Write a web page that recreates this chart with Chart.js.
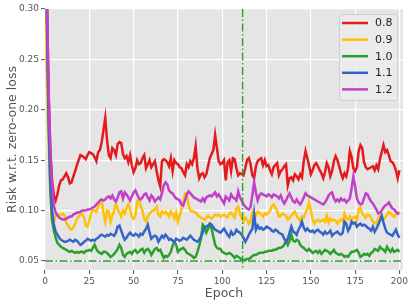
<!DOCTYPE html>
<html>
<head>
<meta charset="utf-8">
<script src="https://cdn.jsdelivr.net/npm/chart.js@4.4.1/dist/chart.umd.min.js"></script>
<style>
  html, body { margin: 0; padding: 0; background: #fff; }
  #wrap { width: 415px; height: 306px; }
</style>
</head>
<body>
<div id="wrap"><canvas id="riskChart" width="415" height="306"></canvas></div>
<script>
// series values, one per epoch (0..200)
const SERIES_LABELS = ['0.8', '0.9', '1.0', '1.1', '1.2'];
const SERIES_COLORS = ['#e41a1c', '#ffc107', '#2ca02c', '#3563c6', '#c23fc9'];

const RISK_08 = [
  0.45, 0.32, 0.22, 0.16, 0.13, 0.115, 0.11, 0.116, 0.125, 0.130,
  0.131, 0.134, 0.137, 0.133, 0.127, 0.128, 0.134, 0.139, 0.145, 0.150,
  0.155, 0.154, 0.153, 0.151, 0.155, 0.158, 0.157, 0.156, 0.153, 0.149,
  0.158, 0.160, 0.168, 0.180, 0.192, 0.170, 0.155, 0.152, 0.162, 0.160,
  0.155, 0.166, 0.168, 0.167, 0.156, 0.152, 0.154, 0.148, 0.155, 0.145,
  0.138, 0.142, 0.150, 0.146, 0.147, 0.152, 0.155, 0.142, 0.146, 0.150,
  0.143, 0.146, 0.149, 0.139, 0.130, 0.124, 0.149, 0.151, 0.150, 0.148,
  0.144, 0.152, 0.139, 0.150, 0.147, 0.146, 0.143, 0.142, 0.138, 0.135,
  0.146, 0.143, 0.149, 0.146, 0.152, 0.164, 0.142, 0.132, 0.136, 0.137,
  0.133, 0.136, 0.144, 0.152, 0.156, 0.160, 0.175, 0.162, 0.149, 0.146,
  0.147, 0.150, 0.130, 0.148, 0.150, 0.139, 0.152, 0.151, 0.142, 0.135,
  0.137, 0.136, 0.135, 0.142, 0.150, 0.152, 0.146, 0.135, 0.132, 0.144,
  0.149, 0.151, 0.152, 0.145, 0.150, 0.144, 0.145, 0.140, 0.136, 0.143,
  0.145, 0.147, 0.135, 0.139, 0.141, 0.144, 0.146, 0.125, 0.132, 0.133,
  0.130, 0.136, 0.134, 0.131, 0.136, 0.133, 0.149, 0.159, 0.152, 0.145,
  0.136, 0.140, 0.145, 0.147, 0.144, 0.140, 0.137, 0.132, 0.138, 0.147,
  0.143, 0.134, 0.139, 0.149, 0.154, 0.150, 0.144, 0.137, 0.132, 0.137,
  0.134, 0.142, 0.159, 0.153, 0.142, 0.139, 0.143, 0.159, 0.165, 0.162,
  0.148, 0.143, 0.141, 0.142, 0.143, 0.144, 0.140, 0.145, 0.141, 0.151,
  0.158, 0.165, 0.158, 0.160, 0.155, 0.149, 0.148, 0.145, 0.140, 0.132,
  0.140
];

const RISK_09 = [
  0.40, 0.24, 0.17, 0.12, 0.092, 0.088, 0.096, 0.097, 0.095, 0.096,
  0.097, 0.095, 0.088, 0.085, 0.082, 0.081, 0.083, 0.087, 0.091, 0.094,
  0.096, 0.097, 0.093, 0.085, 0.084, 0.090, 0.097, 0.101, 0.100, 0.099,
  0.104, 0.108, 0.109, 0.098, 0.089, 0.100, 0.099, 0.089, 0.095, 0.100,
  0.107, 0.101, 0.098, 0.094, 0.100, 0.097, 0.102, 0.106, 0.101, 0.094,
  0.092, 0.095, 0.109, 0.111, 0.104, 0.100, 0.092, 0.089, 0.094, 0.097,
  0.099, 0.100, 0.101, 0.104, 0.096, 0.094, 0.099, 0.097, 0.099, 0.097,
  0.094, 0.099, 0.096, 0.092, 0.098, 0.089, 0.095, 0.101, 0.107, 0.117,
  0.116, 0.105, 0.100, 0.099, 0.099, 0.098, 0.096, 0.094, 0.093, 0.092,
  0.091, 0.093, 0.095, 0.093, 0.092, 0.094, 0.096, 0.095, 0.096, 0.094,
  0.095, 0.096, 0.094, 0.093, 0.097, 0.098, 0.095, 0.093, 0.102, 0.104,
  0.097, 0.092, 0.089, 0.093, 0.091, 0.087, 0.090, 0.098, 0.092, 0.095,
  0.099, 0.098, 0.096, 0.094, 0.097, 0.096, 0.098, 0.100, 0.104, 0.106,
  0.103, 0.100, 0.094, 0.095, 0.097, 0.096, 0.095, 0.091, 0.093, 0.095,
  0.097, 0.099, 0.095, 0.092, 0.089, 0.094, 0.093, 0.098, 0.101, 0.108,
  0.100, 0.091, 0.087, 0.090, 0.091, 0.089, 0.090, 0.091, 0.089, 0.095,
  0.088, 0.092, 0.090, 0.091, 0.090, 0.087, 0.090, 0.091, 0.089, 0.097,
  0.092, 0.091, 0.094, 0.091, 0.093, 0.094, 0.091, 0.101, 0.103, 0.097,
  0.095, 0.093, 0.096, 0.095, 0.093, 0.089, 0.088, 0.087, 0.092, 0.095,
  0.094, 0.091, 0.093, 0.096, 0.099, 0.097, 0.095, 0.094, 0.096, 0.097,
  0.099
];

const RISK_10 = [
  0.45, 0.30, 0.19, 0.12, 0.09, 0.08, 0.073, 0.068, 0.066, 0.064,
  0.063, 0.062, 0.061, 0.060, 0.059, 0.060, 0.059, 0.058, 0.059, 0.058,
  0.059, 0.059, 0.058, 0.060, 0.060, 0.061, 0.060, 0.063, 0.066, 0.062,
  0.059, 0.058, 0.057, 0.059, 0.059, 0.058, 0.056, 0.054, 0.055, 0.057,
  0.059, 0.062, 0.066, 0.063, 0.056, 0.054, 0.057, 0.058, 0.059, 0.057,
  0.060, 0.061, 0.058, 0.059, 0.061, 0.062, 0.058, 0.061, 0.062, 0.060,
  0.056, 0.059, 0.062, 0.063, 0.060, 0.061, 0.057, 0.053, 0.055, 0.054,
  0.056, 0.059, 0.065, 0.069, 0.066, 0.059, 0.061, 0.062, 0.063, 0.061,
  0.058, 0.057, 0.056, 0.055, 0.053, 0.054, 0.059, 0.065, 0.072, 0.086,
  0.084, 0.078, 0.082, 0.086, 0.082, 0.074, 0.066, 0.063, 0.062, 0.062,
  0.059, 0.058, 0.057, 0.057, 0.058, 0.057, 0.055, 0.053, 0.055, 0.054,
  0.053, 0.051, 0.051, 0.051, 0.052, 0.052, 0.053, 0.055, 0.056, 0.056,
  0.057, 0.058, 0.058, 0.058, 0.059, 0.059, 0.060, 0.060, 0.060, 0.061,
  0.061, 0.062, 0.063, 0.063, 0.064, 0.066, 0.070, 0.066, 0.070, 0.076,
  0.070, 0.069, 0.071, 0.070, 0.066, 0.064, 0.063, 0.061, 0.060, 0.062,
  0.060, 0.058, 0.059, 0.060, 0.058, 0.060, 0.057, 0.059, 0.061, 0.060,
  0.059, 0.057, 0.059, 0.061, 0.058, 0.057, 0.056, 0.057, 0.056, 0.054,
  0.055, 0.054, 0.057, 0.059, 0.059, 0.060, 0.061, 0.058, 0.054, 0.055,
  0.057, 0.056, 0.057, 0.055, 0.058, 0.059, 0.062, 0.061, 0.060, 0.064,
  0.062, 0.061, 0.059, 0.064, 0.061, 0.059, 0.062, 0.059, 0.060, 0.061,
  0.059
];

const RISK_11 = [
  0.45, 0.30, 0.20, 0.13, 0.10, 0.086, 0.079, 0.076, 0.073, 0.071,
  0.070, 0.069, 0.069, 0.070, 0.071, 0.070, 0.069, 0.071, 0.070, 0.068,
  0.066, 0.067, 0.069, 0.070, 0.072, 0.071, 0.070, 0.071, 0.070, 0.072,
  0.073, 0.075, 0.076, 0.075, 0.074, 0.076, 0.075, 0.077, 0.076, 0.075,
  0.078, 0.084, 0.085, 0.080, 0.075, 0.071, 0.073, 0.076, 0.078, 0.076,
  0.075, 0.077, 0.076, 0.074, 0.077, 0.076, 0.079, 0.082, 0.086, 0.078,
  0.072, 0.074, 0.075, 0.074, 0.069, 0.072, 0.075, 0.073, 0.076, 0.074,
  0.071, 0.072, 0.070, 0.069, 0.072, 0.071, 0.070, 0.071, 0.073, 0.072,
  0.071, 0.073, 0.075, 0.073, 0.071, 0.070, 0.069, 0.071, 0.074, 0.078,
  0.083, 0.084, 0.085, 0.087, 0.086, 0.083, 0.081, 0.080, 0.079, 0.078,
  0.080, 0.082, 0.079, 0.076, 0.074, 0.079, 0.076, 0.077, 0.081, 0.079,
  0.078, 0.076, 0.073, 0.069, 0.072, 0.076, 0.079, 0.082, 0.097, 0.081,
  0.085, 0.082, 0.083, 0.081, 0.082, 0.084, 0.083, 0.082, 0.080, 0.079,
  0.081, 0.080, 0.078, 0.077, 0.076, 0.072, 0.069, 0.072, 0.078, 0.084,
  0.079, 0.078, 0.076, 0.081, 0.084, 0.089, 0.083, 0.080, 0.082, 0.080,
  0.079, 0.080, 0.078, 0.080, 0.081, 0.079, 0.078, 0.076, 0.079, 0.077,
  0.078, 0.080, 0.075, 0.077, 0.078, 0.079, 0.077, 0.076, 0.078, 0.089,
  0.087, 0.080, 0.083, 0.089, 0.087, 0.088, 0.084, 0.086, 0.087, 0.085,
  0.086, 0.085, 0.083, 0.082, 0.080, 0.084, 0.079, 0.082, 0.086, 0.090,
  0.095, 0.088, 0.082, 0.078, 0.077, 0.076, 0.075, 0.078, 0.081, 0.076,
  0.073
];

const RISK_12 = [
  0.45, 0.32, 0.22, 0.16, 0.125, 0.105, 0.098, 0.095, 0.093, 0.092,
  0.091, 0.091, 0.092, 0.093, 0.094, 0.094, 0.096, 0.097, 0.098, 0.098,
  0.099, 0.100, 0.100, 0.100, 0.101, 0.101, 0.102, 0.103, 0.104, 0.106,
  0.108, 0.110, 0.111, 0.110, 0.111, 0.113, 0.114, 0.112, 0.115, 0.111,
  0.109, 0.113, 0.118, 0.119, 0.112, 0.118, 0.116, 0.113, 0.110, 0.114,
  0.118, 0.120, 0.116, 0.112, 0.111, 0.113, 0.116, 0.117, 0.113, 0.110,
  0.115, 0.113, 0.109, 0.111, 0.113, 0.111, 0.117, 0.125, 0.128, 0.126,
  0.120, 0.118, 0.117, 0.114, 0.112, 0.111, 0.110, 0.106, 0.105, 0.110,
  0.116, 0.119, 0.117, 0.115, 0.113, 0.112, 0.111, 0.110, 0.109, 0.112,
  0.109, 0.113, 0.114, 0.115, 0.114, 0.116, 0.118, 0.114, 0.116, 0.113,
  0.110, 0.107, 0.114, 0.112, 0.110, 0.116, 0.113, 0.112, 0.110, 0.119,
  0.113, 0.110, 0.106, 0.104, 0.102, 0.101, 0.104, 0.115, 0.128, 0.118,
  0.110, 0.115, 0.117, 0.116, 0.115, 0.114, 0.116, 0.115, 0.113, 0.116,
  0.115, 0.114, 0.112, 0.115, 0.110, 0.107, 0.110, 0.114, 0.117, 0.113,
  0.109, 0.108, 0.111, 0.108, 0.106, 0.109, 0.113, 0.117, 0.115, 0.114,
  0.113, 0.112, 0.111, 0.110, 0.109, 0.108, 0.107, 0.106, 0.108, 0.111,
  0.115, 0.117, 0.118, 0.112, 0.109, 0.111, 0.109, 0.112, 0.110, 0.111,
  0.108, 0.110, 0.112, 0.122, 0.134, 0.124, 0.112, 0.108, 0.106, 0.107,
  0.112, 0.117, 0.116, 0.112, 0.109, 0.107, 0.104, 0.101, 0.097, 0.098,
  0.100, 0.103, 0.105, 0.106, 0.108, 0.105, 0.102, 0.101, 0.099, 0.097,
  0.097
];

const EPOCHS = RISK_08.map((_, i) => i);
const X_TICKS = [0, 25, 50, 75, 100, 125, 150, 175, 200];
const Y_TICKS = [0.05, 0.10, 0.15, 0.20, 0.25, 0.30];
const MARK_EPOCH = 111.5;   // vertical dash-dot line
const FLOOR_RISK = 0.05;    // horizontal dash-dot line

const ALL_SERIES = [RISK_08, RISK_09, RISK_10, RISK_11, RISK_12];

// gray panel behind the plot (ggplot look)
const panelBg = {
    id: 'panelBg',
    beforeDraw(chart) {
        const { ctx, chartArea: a } = chart;
        ctx.save();
        ctx.fillStyle = '#e5e5e5';
        ctx.fillRect(a.left, a.top, a.right - a.left, a.bottom - a.top);
        ctx.restore();
    }
};

// dash-dot reference lines + legend box in the corner
const extras = {
    id: 'extras',
    afterDatasetsDraw(chart) {
        const { ctx, chartArea: a, scales } = chart;
        const xv = scales.x.getPixelForValue(MARK_EPOCH);
        const yv = scales.y.getPixelForValue(FLOOR_RISK);
        ctx.save();
        ctx.beginPath();
        ctx.rect(a.left, a.top, a.right - a.left, a.bottom - a.top);
        ctx.clip();
        ctx.strokeStyle = '#2ca02c';
        ctx.lineWidth = 1.4;
        ctx.setLineDash([8, 2.5, 1.5, 2.5]);
        ctx.beginPath();
        ctx.moveTo(a.left, yv);
        ctx.lineTo(a.right, yv);
        ctx.stroke();
        ctx.beginPath();
        ctx.moveTo(xv, a.top);
        ctx.lineTo(xv, a.bottom);
        ctx.stroke();
        ctx.restore();
    },
    afterDraw(chart) {
        const { ctx, chartArea: a } = chart;
        const boxW = 58, boxH = 86;
        const bx = a.right - 6 - boxW, by = a.top + 5;
        ctx.save();
        ctx.fillStyle = 'rgba(236,236,236,0.85)';
        ctx.strokeStyle = '#cfcfcf';
        ctx.lineWidth = 1;
        ctx.beginPath();
        ctx.roundRect(bx + 0.5, by + 0.5, boxW, boxH, 2);
        ctx.fill();
        ctx.stroke();
        ctx.font = '11px "DejaVu Sans"';
        ctx.textBaseline = 'middle';
        ctx.fillStyle = '#222';
        chart.data.datasets.forEach((ds, i) => {
            const y = by + 9 + i * 16.6;
            ctx.strokeStyle = ds.borderColor;
            ctx.lineWidth = 2.5;
            ctx.beginPath();
            ctx.moveTo(bx + 3, y);
            ctx.lineTo(bx + 29, y);
            ctx.stroke();
            ctx.fillText(ds.label, bx + 36, y + 0.5);
        });
        ctx.restore();
    }
};

const ctx = document.getElementById('riskChart').getContext('2d');
new Chart(ctx, {
    type: 'line',
    data: {
        datasets: ALL_SERIES.map((vals, i) => ({
            label: SERIES_LABELS[i],
            data: vals.map((v, j) => ({ x: EPOCHS[j], y: v })),
            borderColor: SERIES_COLORS[i],
            borderWidth: 2.5,
            pointRadius: 0,
            tension: 0,
            fill: false,
            order: ALL_SERIES.length - i
        }))
    },
    options: {
        responsive: false,
        animation: false,
        layout: { padding: { top: 9, right: 12, left: 0, bottom: 0 } },
        plugins: {
            legend: { display: false },
            tooltip: { enabled: false }
        },
        scales: {
            x: {
                type: 'linear',
                min: 0,
                max: 202,
                afterBuildTicks: s => { s.ticks = X_TICKS.map(v => ({ value: v })); },
                afterFit: s => { s.height = 36; },
                border: { display: false },
                grid: { color: '#ffffff', lineWidth: 1.2, tickLength: 4, tickColor: '#555555', tickWidth: 1 },
                ticks: { color: '#555555', font: { family: 'DejaVu Sans', size: 9 }, padding: 2, maxRotation: 0 },
                title: { display: true, text: 'Epoch', color: '#555555', font: { family: 'DejaVu Sans', size: 12.5 }, padding: { top: 0, bottom: 5 } }
            },
            y: {
                min: 0.041,
                max: 0.30,
                afterBuildTicks: s => { s.ticks = Y_TICKS.map(v => ({ value: v })); },
                afterFit: s => { s.width = 45; },
                border: { display: false },
                grid: { color: '#ffffff', lineWidth: 1.2, tickLength: 4, tickColor: '#555555', tickWidth: 1 },
                ticks: { color: '#555555', font: { family: 'DejaVu Sans', size: 9 }, padding: 2, callback: v => v.toFixed(2) },
                title: { display: true, text: 'Risk w.r.t. zero-one loss', color: '#555555', font: { family: 'DejaVu Sans', size: 12.5 }, padding: { top: 5, bottom: 0 } }
            }
        }
    },
    plugins: [panelBg, extras]
});
</script>
</body>
</html>
